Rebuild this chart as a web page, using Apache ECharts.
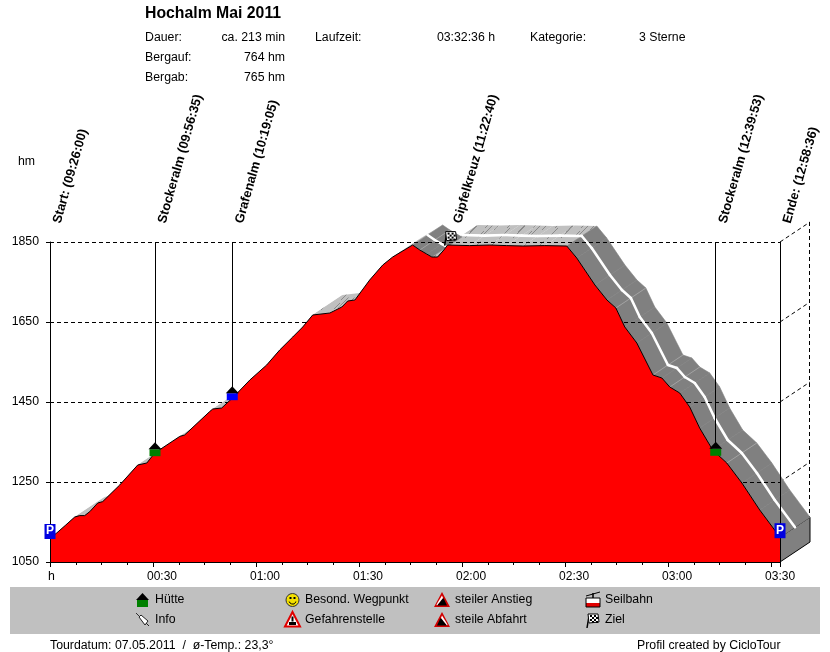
<!DOCTYPE html>
<html><head><meta charset="utf-8">
<style>html,body{margin:0;padding:0;background:#fff}#c{width:830px;height:652px}</style>
<script src="https://cdn.jsdelivr.net/npm/echarts@6/dist/echarts.min.js"></script>
</head><body><div id="c"></div>
<script>
// ---------- data ----------
const minutes = [0,1.95,4.6,7.2,8.65,10.1,11.6,13.9,15.35,20.3,25.55,28.2,30.5,37.8,39.2,46.5,47.4,50,53.4,58.2,63.1,66.9,70.7,73.6,76.5,81.5,85,86.7,88.8,93.1,96.9,99.8,105.6,107.7,109.7,111.2,112.9,114.7,115.8,122.2,128.1,133,137.7,144.1,150.5,153.4,158.7,162.2,164.8,167.4,170.9,175.6,178.2,180.5,183.4,186.3,189.2,193,197.1,201.5,206.7,212.6];
const heights = [1110,1122.5,1142.5,1162.5,1166,1166,1176,1197.5,1201,1242.5,1292.5,1297.5,1322.5,1364,1367.5,1426,1432.5,1435,1462,1505,1542.5,1580,1612.5,1637.5,1667.5,1672.5,1687.5,1702.5,1705,1755,1792.5,1812.5,1842.5,1830,1820,1812.5,1812.5,1830,1842.5,1841,1842.5,1841,1840,1841,1840,1810,1742.5,1705,1685,1637.5,1597.5,1517.5,1510,1487.5,1472.5,1437.5,1385,1330,1297.5,1247.5,1180,1112];
const seamMinutes = [107.7,164.8,175.6,180.5,197.1];
const yTicks = [1050,1250,1450,1650,1850];
const xTickValues = [30,60,90,120,150,180,210];
const xTickLabels = ['00:30','01:00','01:30','02:00','02:30','03:00','03:30'];
const wpNames = ['Start:','Stockeralm','Grafenalm','Gipfelkreuz','Stockeralm','Ende:'];
const wpTimes = ['(09:26:00)','(09:56:35)','(10:19:05)','(11:22:40)','(12:39:53)','(12:58:36)'];
const wpMinutes = [0,30.58,53.08,116.67,193.88,212.6];
const wpHeights = [1110,1322,1462,1841,1323,1112];
const wpIcons = ['P','hutG','hutB','flag','hutG','P'];
const legendNames = ['Hütte','Info','Besond. Wegpunkt','Gefahrenstelle','steiler Anstieg','steile Abfahrt','Seilbahn','Ziel'];
const legendIcons = ['hutG','pin','smile','danger','up','down','cable','flag'];
const infoLeft = ['Dauer:','Bergauf:','Bergab:'];
const infoLeftValues = ['ca. 213 min','764 hm','765 hm'];

// ---------- style constants ----------
const FONT = '"Liberation Sans", Arial, sans-serif';
const XMAX = 212.6, YMIN = 1050, YMAX = 1850;
const DEPTH_X = 30 / (730 / XMAX), DEPTH_Y = 50;   // 3D depth of the band in axis units
const GREY = '#808080', LIGHT = '#c0c0c0';

// hatched fill for the flat top surface
const hatch = document.createElement('canvas');
hatch.width = 48; hatch.height = 24;
(function () {
  const g = hatch.getContext('2d');
  g.fillStyle = LIGHT; g.fillRect(0, 0, 48, 24);
  g.strokeStyle = '#8a8a8a'; g.lineWidth = 1;
  const streaks = [[2,20,14],[5,12,8],[9,8,9],[19,23,12],[24,18,8],[27,12,7],[33,22,16],[38,16,9],[41,9,10],[14,14,6],[46,21,8]];
  [-48,0,48].forEach(ox => [-24,0,24].forEach(oy => streaks.forEach(s => {
    g.beginPath(); g.moveTo(s[0]+ox, s[1]+oy); g.lineTo(s[0]+ox+s[2]*0.75, s[1]+oy-s[2]*0.75); g.stroke();
  })));
})();

// ---------- icons (local pixel coordinates, origin at anchor) ----------
function poly(points, fill, stroke, lw) {
  return {type:'polygon', shape:{points}, style:{fill, stroke: stroke||null, lineWidth: lw||0}};
}
function rect(x,y,w,h,fill) { return {type:'rect', shape:{x,y,width:w,height:h}, style:{fill}}; }
function iconChildren(kind) {
  if (kind === 'hutG' || kind === 'hutB') {
    return [rect(-5.5,-4,11,7, kind==='hutG' ? '#008000' : '#0000ff'), poly([[0,-11],[6.5,-4],[-6.5,-4]], '#000')];
  }
  if (kind === 'P') {
    return [rect(-5.5,-14,11,15,'#0000e0'),
      {type:'text', style:{text:'P', x:0, y:-7, fill:'#fff', font:'bold 12px '+FONT, align:'center', verticalAlign:'middle'}}];
  }
  if (kind === 'flag') {
    const c = [{type:'line', shape:{x1:-4,y1:-4,x2:-6,y2:8}, style:{stroke:'#000', lineWidth:1.5}}, poly([[-5,-6],[5,-6],[6,2],[-4,3]], '#fff', '#000', 1)];
    [[-3,-5],[1,-5],[-1,-3],[3,-3],[-3,-1],[1,-1],[-1,1],[3,1]].forEach(p => c.push(rect(p[0],p[1],2,2,'#000')));
    return c;
  }
  if (kind === 'smile') {
    return [{type:'circle', shape:{cx:0,cy:0,r:6.5}, style:{fill:'#f4e000', stroke:'#333', lineWidth:1}},
      rect(-3,-3,2,2,'#000'), rect(1,-3,2,2,'#000'),
      {type:'arc', shape:{cx:0,cy:0.5,r:3.5,startAngle:0.3,endAngle:Math.PI-0.3}, style:{fill:null, stroke:'#000', lineWidth:1}}];
  }
  if (kind === 'pin') {
    return [{type:'line', shape:{x1:-7,y1:-7,x2:-3,y2:-3}, style:{stroke:'#333', lineWidth:1}},
      {type:'polygon', shape:{points:[[-4,-3],[-2,-5],[5,1],[2,5]]}, style:{fill:'#fff', stroke:'#222', lineWidth:1}},
      {type:'line', shape:{x1:3,y1:3,x2:6,y2:6}, style:{stroke:'#222', lineWidth:1}}];
  }
  if (kind === 'danger') {
    return [poly([[0,-8],[7.5,6.5],[-7.5,6.5]], '#fff', '#e00000', 2), rect(-1,-3.5,2,5,'#000'), rect(-3.5,2,7,3,'#000')];
  }
  if (kind === 'up') {
    return [poly([[0,-8],[8,7],[-8,7]], '#d00000'), poly([[-5,5.5],[5,5.5],[2,-1],[1,-2]], '#000'), poly([[0,-4.5],[1,-2],[-5,5.5],[-5.5,4.5]], '#fff')];
  }
  if (kind === 'down') {
    return [poly([[0,-8],[8,7],[-8,7]], '#d00000'), poly([[-5,5.5],[5,5.5],[-1,-2],[-2,-1]], '#000'), poly([[0,-4.5],[5.5,4.5],[5,5.5],[-1,-2]], '#fff')];
  }
  if (kind === 'cable') {
    return [{type:'line', shape:{x1:-7,y1:-4,x2:7,y2:-8}, style:{stroke:'#000', lineWidth:1}},
      {type:'line', shape:{x1:0,y1:-7,x2:0,y2:-2}, style:{stroke:'#000', lineWidth:1.5}},
      rect(-7,-2,14,5,'#fff'), rect(-7,3,14,4,'#e00000'),
      {type:'rect', shape:{x:-7,y:-2,width:14,height:9}, style:{fill:null, stroke:'#000', lineWidth:1}}];
  }
  return [];
}

// ---------- render helpers ----------
const profile = minutes.map((m,i) => [m, heights[i]]);

function renderStrip(params, api) {
  const i = params.dataIndex;
  if (i >= profile.length - 1) return null;
  const a = profile[i], b = profile[i+1];
  const rate = (b[1]-a[1]) / (b[0]-a[0]);
  const steepDown = rate < -2;
  const pts = [api.coord(a), api.coord(b), api.coord([b[0]+DEPTH_X, b[1]+DEPTH_Y]), api.coord([a[0]+DEPTH_X, a[1]+DEPTH_Y])];
  return {type:'polygon', z2: steepDown ? 2 : 1, shape:{points:pts},
    style: steepDown ? {fill:GREY, stroke:GREY, lineWidth:0.6}
                     : {fill:{image:hatch, repeat:'repeat'}, stroke:null}};
}
function renderMid(params, api) {
  const i = params.dataIndex;
  if (i >= profile.length - 1) return null;
  const a = profile[i], b = profile[i+1];
  if (a[0] < 105 || (b[1]-a[1])/(b[0]-a[0]) > 2) return null;
  const p = api.coord([a[0]+DEPTH_X/2, a[1]+DEPTH_Y/2]), q = api.coord([b[0]+DEPTH_X/2, b[1]+DEPTH_Y/2]);
  return {type:'line', shape:{x1:p[0],y1:p[1],x2:q[0],y2:q[1]}, style:{stroke:'#fff', lineWidth:2.6, lineCap:'round'}};
}
function renderSeam(params, api) {
  const m = api.value(0), h = api.value(1);
  const p = api.coord([m,h]), q = api.coord([m+DEPTH_X, h+DEPTH_Y]);
  return {type:'line', shape:{x1:p[0],y1:p[1],x2:q[0],y2:q[1]}, style:{stroke:'#a8a8a8', lineWidth:0.8}};
}
function renderBox(params, api) {
  const v = api.value(1);
  const p = api.coord([XMAX, v]), q = api.coord([XMAX+DEPTH_X, v+DEPTH_Y]);
  const kids = [{type:'line', shape:{x1:p[0],y1:p[1],x2:q[0],y2:q[1]}, style:{stroke:'#000', lineWidth:1, lineDash:[4,3]}}];
  if (v === YMAX) {
    const b = api.coord([XMAX+DEPTH_X, YMIN+DEPTH_Y]);
    const vx = Math.floor(q[0])+0.5;
    kids.push({type:'line', shape:{x1:vx,y1:q[1],x2:vx,y2:b[1]}, style:{stroke:'#000', lineWidth:1, lineDash:[4,3]}});
  }
  return {type:'group', children:kids};
}
function renderCap(params, api) {
  const e = heights[heights.length-1];
  const pts = [api.coord([XMAX,YMIN]), api.coord([XMAX+DEPTH_X,YMIN+DEPTH_Y]), api.coord([XMAX+DEPTH_X,e+DEPTH_Y]), api.coord([XMAX,e])];
  return {type:'polygon', shape:{points:pts}, style:{fill:GREY, stroke:'#000', lineWidth:1}};
}
function renderStem(params, api) {
  const i = params.dataIndex, top = api.coord([api.value(0), YMAX]);
  const p = api.coord([api.value(0), wpHeights[i]]);
  const kids = [];
  const sx = Math.floor(p[0])+0.5;
  if (wpIcons[i] !== 'flag') {
    const endY = wpIcons[i] === 'P' ? api.coord([0,YMIN])[1] : p[1]-8;
    kids.push({type:'line', shape:{x1:sx,y1:top[1],x2:sx,y2:endY}, style:{stroke:'#000', lineWidth:1}});
  }
  kids.push({type:'text', x:p[0]+7, y:top[1]-19, rotation:74*Math.PI/180,
    style:{text:wpNames[i]+' '+wpTimes[i], fill:'#000', font:'bold 12.9px '+FONT, align:'left', verticalAlign:'middle'}});
  return {type:'group', children:kids};
}
function renderIcon(params, api) {
  const i = params.dataIndex, p = api.coord([api.value(0), wpHeights[i]]);
  const flagShift = wpIcons[i] === 'flag' ? -8 : 0;
  return {type:'group', x:p[0], y:p[1]+flagShift, children:iconChildren(wpIcons[i])};
}

// ---------- page text & legend ----------
function txt(text, x, y, opt) {
  return {type:'text', x, y, z:20, style:Object.assign({text, fill:'#000', font:'12.3px '+FONT, align:'left', verticalAlign:'middle'}, opt||{})};
}
const graphics = [
  {type:'rect', shape:{x:10,y:587,width:810,height:47}, style:{fill:LIGHT}, z:0},
  txt('Hochalm Mai 2011',145,14,{font:'bold 15.8px '+FONT}),
  txt('Laufzeit:',315,37.5), txt('03:32:36 h',495,37.5,{align:'right'}),
  txt('Kategorie:',530,37.5), txt('3 Sterne',639,37.5),
  txt('hm',18,162), txt('h',48,577),
  txt('Tourdatum: 07.05.2011  /  ø-Temp.: 23,3°',50,645.5),
  txt('Profil created by CicloTour',637,645.5)
];
infoLeft.forEach((t,i) => {
  graphics.push(txt(t,145,37.5+20*i), txt(infoLeftValues[i],285,37.5+20*i,{align:'right'}));
});
const legendX = [155,155,305,305,455,455,605,605];
const legendIconX = [142.5,143,292.5,292.5,442,442,593,593];
const legendY = [600,620,600,620,600,620,600,620];
legendNames.forEach((t,i) => {
  graphics.push(txt(t,legendX[i],legendY[i]));
  const dy = legendIcons[i]==='hutG' ? 4 : 0;
  graphics.push({type:'group', x:legendIconX[i], y:legendY[i]+dy, children:iconChildren(legendIcons[i]).map(c => Object.assign(c,{z:15}))});
});

// ---------- chart ----------
const chart = echarts.init(document.getElementById('c'), null, {renderer:'canvas'});
const custom = (name, data, fn, z) => ({type:'custom', name, data, renderItem:fn, z, silent:true, animation:false, clip:false});
chart.setOption({
  animation:false,
  backgroundColor:'#fff',
  grid:{left:50, top:242, width:730, height:320, containLabel:false},
  xAxis:{type:'value', min:0, max:XMAX, interval:30, z:5,
    axisLine:{show:true, onZero:false, lineStyle:{color:'#000',width:1}},
    axisTick:{show:true, length:5, lineStyle:{color:'#000'}},
    minorTick:{show:true, splitNumber:4, length:3, lineStyle:{color:'#000'}},
    splitLine:{show:false},
    axisLabel:{show:true, margin:9, color:'#000', fontFamily:'Liberation Sans', fontSize:12, padding:[0,0,0,18],
      showMinLabel:false, showMaxLabel:false,
      formatter:v => { const k = xTickValues.indexOf(v); return k>=0 ? xTickLabels[k] : ''; }}},
  yAxis:{type:'value', min:YMIN, max:YMAX, interval:200, z:2,
    axisLine:{show:true, lineStyle:{color:'#000',width:1}},
    axisTick:{show:true, length:5, lineStyle:{color:'#000',type:[4,3]}},
    splitLine:{show:true, lineStyle:{color:'#000',width:1,type:[4,3]}},
    axisLabel:{margin:11, color:'#000', fontFamily:'Liberation Sans', fontSize:12.3, formatter:v => String(v)}},
  graphic:{elements:graphics},
  series:[
    custom('box', yTicks.slice(1).map(v=>[XMAX,v]), renderBox, 0),
    custom('band', profile, renderStrip, 1),
    custom('cap', [[XMAX,YMIN]], renderCap, 1),
    custom('seams', seamMinutes.map(m=>[m, heights[minutes.indexOf(m)]]), renderSeam, 1.2),
    custom('midline', profile, renderMid, 1.4),
    {type:'line', name:'profile', data:profile, z:3, showSymbol:false, symbol:'none', silent:true, animation:false, clip:false,
      lineStyle:{color:'#000',width:1}, areaStyle:{color:'#ff0000',opacity:1}},
    custom('stems', wpMinutes.map((m,i)=>[m,wpHeights[i]]), renderStem, 4),
    custom('icons', wpMinutes.map((m,i)=>[m,wpHeights[i]]), renderIcon, 6)
  ]
});
</script></body></html>
